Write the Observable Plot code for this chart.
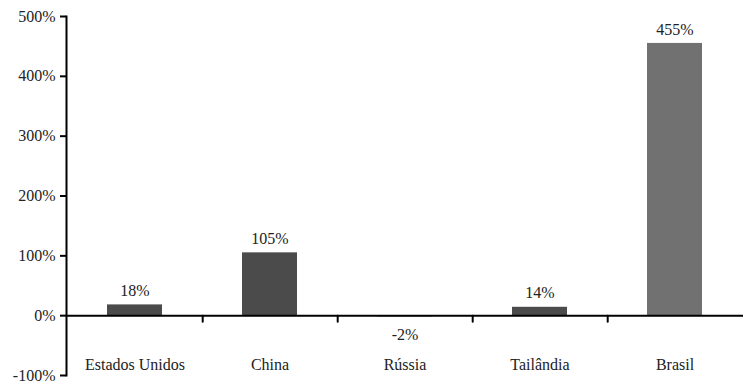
<!DOCTYPE html>
<html>
<head>
<meta charset="utf-8">
<script src="https://cdn.jsdelivr.net/npm/d3@7"></script>
<script src="https://cdn.jsdelivr.net/npm/@observablehq/plot@0.6"></script>
<style>
  html, body { margin: 0; padding: 0; background: #fff; font-family: "Liberation Serif", "DejaVu Serif", serif; }
  svg text { font-family: "Liberation Serif", "DejaVu Serif", serif !important; }
</style>
</head>
<body>
<div id="chart"></div>
<script>
const categories = ["Estados Unidos", "China", "Rússia", "Tailândia", "Brasil"];
const values = [18, 105, -2, 14, 455];
const yTicks = [-100, 0, 100, 200, 300, 400, 500];

const data = categories.map((c, i) => ({cat: c, val: values[i]}));

const W = 743, H = 381, mL = 66, mR = 0;
const step = (W - mL - mR) / categories.length;
const textColor = "#222";
const fontName = "Liberation Serif, DejaVu Serif, serif";

const chart = Plot.plot({
  width: W,
  height: H,
  marginTop: 16,
  marginBottom: 6,
  marginLeft: mL,
  marginRight: mR,
  style: {fontSize: "16px"},
  x: {type: "band", domain: categories, padding: 0, label: null},
  y: {domain: [-100, 500], label: null},
  marks: [
    Plot.barY(data, {
      x: "cat", y: "val",
      fill: d => d.cat === "Brasil" ? "#717171" : "#4b4b4b",
      insetLeft: 40, insetRight: 40
    }),
    Plot.frame({anchor: "left", stroke: "#000", strokeWidth: 2}),
    Plot.ruleY([0], {stroke: "#000", strokeWidth: 2}),
    Plot.vector(categories.slice(0, -1), {
      x: d => d, y: () => 0, length: 6, rotate: 180, anchor: "start",
      dx: step / 2, stroke: "#000", strokeWidth: 2,
      shape: {draw(context, l) { context.moveTo(0, 0); context.lineTo(0, -l); }}
    }),
    Plot.axisY(yTicks, {
      tickFormat: d => d + "%", tickSize: 6, tickPadding: 5,
      stroke: "#000", strokeWidth: 2, fill: textColor, label: null, fontFamily: fontName
    }),
    Plot.axisX({tickSize: 0, tickPadding: 0, dy: -17, fill: textColor, label: null, fontFamily: fontName}),
    Plot.text(data.filter(d => d.val >= 0), {
      x: "cat", y: "val", text: d => d.val + "%", dy: -14, fill: textColor, fontFamily: fontName
    }),
    Plot.text(data.filter(d => d.val < 0), {
      x: "cat", y: "val", text: d => d.val + "%", dy: 18, fill: textColor, fontFamily: fontName
    })
  ]
});

document.getElementById("chart").appendChild(chart);
d3.select(chart).attr("font-family", fontName);
d3.select(chart).selectAll("g, text").attr("font-family", fontName);
</script>
</body>
</html>
